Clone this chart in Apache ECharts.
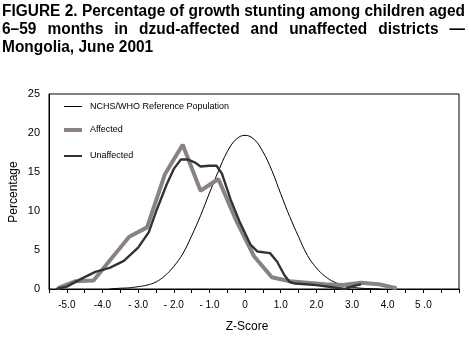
<!DOCTYPE html>
<html><head><meta charset="utf-8">
<script src="https://cdn.jsdelivr.net/npm/echarts@6/dist/echarts.min.js"></script>
<style>html,body{margin:0;padding:0;background:#fff}#c{width:469px;height:339px}</style>
</head><body><div id="c"></div>
<script>
// ---- data ----
const titleLines = [
  'FIGURE 2. Percentage of growth stunting among children aged',
  '6\u201359 months in dzud-affected and unaffected districts \u2014',
  'Mongolia, June 2001'
];
const seriesNames = ['NCHS/WHO Reference Population', 'Affected', 'Unaffected'];
const xTickValues = [-5, -4, -3, -2, -1, 0, 1, 2, 3, 4, 5];
const xTickLabels = ['-5.0', '-4.0', '- 3.0', '- 2.0', '- 1.0', '0', '1.0', '2.0', '3.0', '4.0', '5 .0'];
const xTitle = 'Z-Score';
const yTitle = 'Percentage';

const nchsZ = [-3.8, -3.5, -3.25, -3.0, -2.75, -2.5, -2.25, -2.0, -1.75, -1.5, -1.25, -1.0, -0.75, -0.5, -0.25, 0, 0.25, 0.5, 0.75, 1.0, 1.25, 1.5, 1.75, 2.0, 2.25, 2.5, 2.75, 3.0, 3.25, 3.5, 3.8];
const nchsV = [0, 0.1, 0.15, 0.3, 0.5, 0.9, 1.7, 2.9, 4.5, 6.8, 9.4, 12.3, 15.1, 17.6, 19.2, 19.7, 19.2, 17.6, 15.2, 12.2, 9.3, 6.7, 4.3, 2.7, 1.6, 0.9, 0.5, 0.25, 0.1, 0.05, 0];

const affZ = [-5.25, -4.75, -4.25, -3.75, -3.25, -2.75, -2.25, -1.75, -1.25, -0.75, -0.25, 0.25, 0.75, 1.25, 1.75, 2.25, 2.75, 3.25, 3.75, 4.25];
const affV = [0.1, 1.0, 1.1, 3.9, 6.7, 7.9, 14.7, 18.5, 12.6, 14.1, 8.8, 4.2, 1.5, 1.0, 0.8, 0.6, 0.5, 0.8, 0.6, 0.1];

const unaZ = [-5.3, -5.0, -4.6, -4.2, -3.8, -3.4, -3.0, -2.7, -2.5, -2.2, -2.0, -1.8, -1.6, -1.4, -1.25, -1.0, -0.8, -0.65, -0.4, -0.15, 0.15, 0.35, 0.7, 0.9, 1.1, 1.25, 1.4, 1.7, 2.0, 2.5, 2.8, 3.05, 3.25];
const unaV = [0, 0.3, 1.3, 2.2, 2.7, 3.6, 5.3, 7.3, 9.9, 13.4, 15.4, 16.6, 16.6, 16.2, 15.7, 15.8, 15.8, 14.8, 11.4, 8.6, 5.7, 4.8, 4.6, 3.5, 1.8, 0.9, 0.7, 0.6, 0.5, 0.2, 0.0, 0.4, 0.6];

// ---- build ----
const FONT = '"Liberation Sans", Arial, Helvetica, sans-serif';
const zip = (a, b) => a.map((v, i) => [v, b[i]]);
const colors = ['#000', '#8a8282', '#333'];
const widths = [1, 4, 2.4];
const iconH = [1, 4, 2];

const meas = document.createElement('canvas').getContext('2d');
const tFont = 'bold 16px ' + FONT;
meas.font = tFont;
const L = 2, R = 465;
const scaleX = (R - L) / meas.measureText(titleLines[0]).width;
const titleY = [4, 22, 40];
const graphics = [];
graphics.push({type: 'text', x: L, y: titleY[0], scaleX: scaleX, style: {text: titleLines[0], font: tFont, fill: '#000', verticalAlign: 'top'}});
const words = titleLines[1].split(' ');
const ww = words.map(w => meas.measureText(w).width * scaleX);
const gap = (R - L - ww.reduce((a, b) => a + b, 0)) / (words.length - 1);
let cx = L;
words.forEach((w, i) => {
  graphics.push({type: 'text', x: cx, y: titleY[1], scaleX: scaleX, style: {text: w, font: tFont, fill: '#000', verticalAlign: 'top'}});
  cx += ww[i] + gap;
});
graphics.push({type: 'text', x: L, y: titleY[2], scaleX: scaleX, style: {text: titleLines[2], font: tFont, fill: '#000', verticalAlign: 'top'}});
graphics.push({type: 'text', x: 247, y: 327, style: {text: xTitle, font: '12px ' + FONT, fill: '#000', align: 'center', verticalAlign: 'middle'}});
graphics.push({type: 'text', x: 14, y: 192, rotation: Math.PI / 2, style: {text: yTitle, font: '12px ' + FONT, fill: '#000', align: 'center', verticalAlign: 'middle'}});

const chart = echarts.init(document.getElementById('c'), null, {renderer: 'canvas'});
const legendTops = [100.5, 124, 150];
chart.setOption({
  animation: false,
  backgroundColor: '#fff',
  textStyle: {fontFamily: FONT},
  grid: {left: 49, right: 10, top: 94, bottom: 50, show: true, borderColor: '#000', borderWidth: 1, backgroundColor: 'transparent'},
  legend: seriesNames.map((n, i) => ({
    data: [{name: n, icon: 'rect', itemStyle: {color: colors[i], borderWidth: 0}}],
    left: 64, top: legendTops[i], orient: 'vertical', itemWidth: 18, itemHeight: iconH[i], itemGap: 0, padding: 0,
    textStyle: {fontSize: 9, color: '#000', fontFamily: FONT, lineHeight: 12, padding: [0, 0, 0, 3]}, selectedMode: false
  })),
  xAxis: {
    type: 'value', min: -5.5, max: 6, interval: 0.5,
    axisLine: {show: true, onZero: false, lineStyle: {color: '#000', width: 1}},
    axisTick: {show: true, length: 4, lineStyle: {color: '#000'}},
    splitLine: {show: false},
    axisLabel: {
      color: '#000', fontSize: 10, margin: 11, hideOverlap: false,
      formatter: v => { const k = xTickValues.findIndex(t => Math.abs(t - v) < 1e-6); return k >= 0 ? xTickLabels[k] : ''; }
    }
  },
  yAxis: {
    type: 'value', min: 0, max: 25, interval: 5,
    axisLine: {show: true, onZero: false, lineStyle: {color: '#000', width: 1}},
    axisTick: {show: false},
    splitLine: {show: false},
    axisLabel: {color: '#000', fontSize: 11, margin: 9}
  },
  series: seriesNames.map((n, i) => ({
    name: n, type: 'line',
    data: zip([nchsZ, affZ, unaZ][i], [nchsV, affV, unaV][i]),
    smooth: i === 0 ? 0.4 : false, symbol: 'none',
    lineStyle: {color: colors[i], width: widths[i]}, itemStyle: {color: colors[i]}, z: 2 + i
  })),
  graphic: graphics
});
</script></body></html>
